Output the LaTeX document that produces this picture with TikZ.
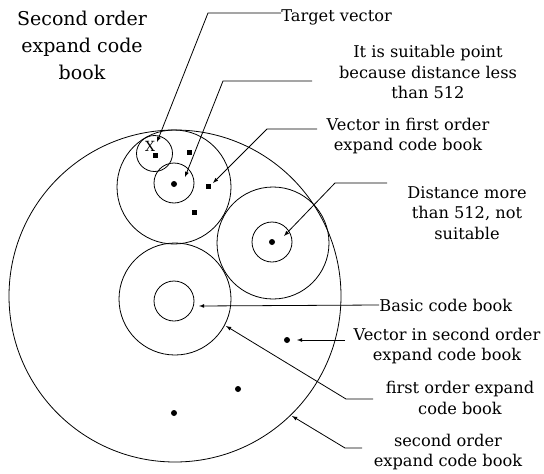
\documentclass[tikz,border=0pt]{standalone}
\usepackage{fontspec}
\setmainfont{DejaVu Serif}
\usetikzlibrary{arrows}
\tikzstyle{lbl}=[align=center, font=\fontsize{16.2}{20.5}\selectfont, inner sep=0pt]

\begin{document}
\begin{tikzpicture}[x=1pt,y=-1pt,line width=0.8pt,>=latex]
\useasboundingbox (0,0) rectangle (544,474);
%\draw[help lines] (0,0) grid[step=20] (544,474);
\tikzstyle{ring}=[circle,draw,inner sep=0pt]
\tikzstyle{pt}=[circle,fill,inner sep=0pt,minimum size=6pt]
\tikzstyle{sq}=[rectangle,fill,inner sep=0pt,minimum size=5pt]

\node[ring,minimum size=332pt] (second) at (175,296) {};
\node[ring,minimum size=114pt] (first) at (174,187) {};
\node[ring,minimum size=36pt] (target) at (154.5,153.5) {};
\node[ring,minimum size=40pt] (near) at (174,183) {};
\node[ring,minimum size=112pt] (farbig) at (273,243) {};
\node[ring,minimum size=40pt] (far) at (272,242) {};
\node[ring,minimum size=112pt] (firstlow) at (175,299) {};
\node[ring,minimum size=40pt] (basic) at (174,301) {};

\node[pt] (nearpt) at (174,184) {};
\node[pt] (farpt) at (272,242) {};
\node[pt] (p1) at (287,340) {};
\node[pt] (p2) at (238,389) {};
\node[pt] (p3) at (174,413) {};
\node[sq] (tv) at (155,155) {};
\node[sq] (s1) at (189,152) {};
\node[sq] (s2) at (208,186) {};
\node[sq] (s3) at (194,212) {};
\node[font=\fontsize{14}{14}\selectfont,inner sep=0pt] (x) at (150,146) {X};

\node[lbl,font=\fontsize{19}{27}\selectfont] (title) at (82,45) {Second order\\expand code\\book};
\node[lbl,anchor=west] (tgt) at (281,17) {Target vector};
\node[lbl] (suit) at (428,72) {It is suitable point\\because distance less\\than 512};
\node[lbl] (vf) at (408,136) {Vector in first order\\expand code book};
\node[lbl] (dist) at (467,213) {Distance more\\than 512, not\\suitable};
\node[lbl,anchor=west] (bas) at (379,305) {Basic code book};
\node[lbl] (vs) at (447,346) {Vector in second order\\expand code book};
\node[lbl] (fo) at (460,398) {first order expand\\code book};
\node[lbl] (so) at (448,452) {second order\\expand code book};

\coordinate (tgtk) at (208,13);
\coordinate (tgtt) at (157,142);
\coordinate (suite) at (312,81);
\coordinate (suitk) at (223,81);
\coordinate (suitt) at (185,177);
\coordinate (vfe) at (317,129);
\coordinate (vfk) at (267,129);
\coordinate (vft) at (213,183);
\coordinate (diste) at (387,183);
\coordinate (distk) at (335,183);
\coordinate (distt) at (284,236);
\coordinate (bast) at (199,306);
\coordinate (vse) at (345,340);
\coordinate (vst) at (297,340);
\coordinate (foe) at (373,399);
\coordinate (fok) at (346,399);
\coordinate (fot) at (226,326);
\coordinate (soe) at (362,448);
\coordinate (sok) at (345,448);
\coordinate (sot) at (292,416);

\draw[->] (tgt.west |- tgtk) -- (tgtk) -- (tgtt);
\draw[->] (suite) -- (suitk) -- (suitt);
\draw[->] (vfe) -- (vfk) -- (vft);
\draw[->] (diste) -- (distk) -- (distt);
\draw[->] (bas.west) -- (bast);
\draw[->] (vse) -- (vst);
\draw[->] (foe) -- (fok) -- (fot);
\draw[->] (soe) -- (sok) -- (sot);
\end{tikzpicture}
\end{document}
